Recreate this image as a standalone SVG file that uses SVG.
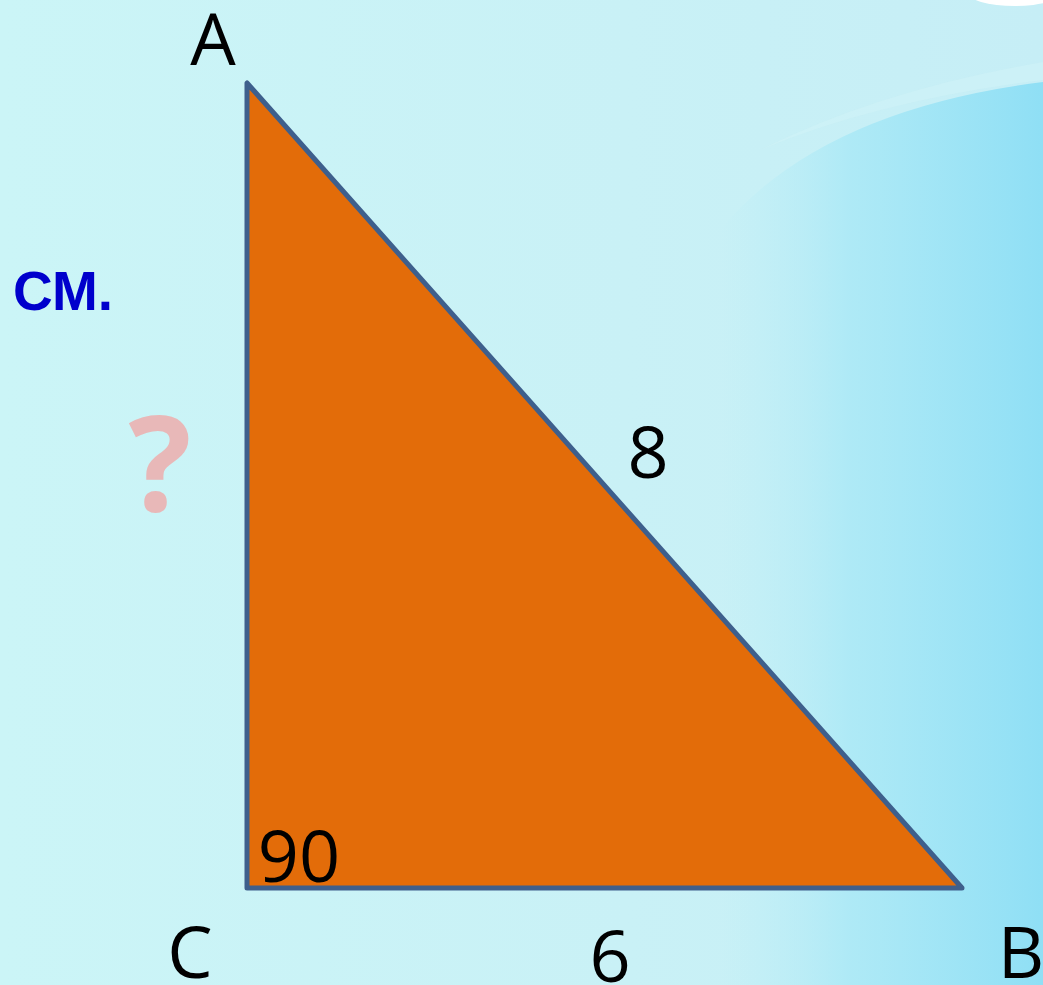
<svg xmlns="http://www.w3.org/2000/svg" width="1043" height="985" viewBox="0 0 1043 985">
<defs>
<linearGradient id="bg" x1="0" y1="0" x2="1" y2="0">
<stop offset="0" stop-color="#CBF5F7"/>
<stop offset="0.6" stop-color="#C9F1F6"/>
<stop offset="1" stop-color="#C6EEF6"/>
</linearGradient>
<linearGradient id="band" x1="0" y1="0" x2="1" y2="0">
<stop offset="0" stop-color="#B8EDF7" stop-opacity="0"/>
<stop offset="0.4" stop-color="#A8E8F6" stop-opacity="0.8"/>
<stop offset="1" stop-color="#8FDFF5"/>
</linearGradient>
<style>
.lbl{font-family:"Open Sans","Noto Sans",sans-serif;font-size:72px;fill:#000}
</style>
</defs>
<rect width="1043" height="985" fill="url(#bg)"/>
<path d="M720,985 L720,230 Q820,110 1043,82 L1043,985 Z" fill="url(#band)"/>
<path d="M760,150 Q880,90 1043,62 L1043,80 Q880,100 760,150 Z" fill="#D2F3F8" opacity="0.5"/>
<ellipse cx="1015" cy="-8" rx="48" ry="14" fill="#FFFFFF"/>
<g id="triangle">
<polygon points="247,83 247,888 962,888" fill="#E36C09" stroke="#3E5F8C" stroke-width="5" stroke-linejoin="round"/>
</g>
<g id="labels">
<text class="lbl" x="213" y="65" text-anchor="middle">A</text>
<text class="lbl" x="190" y="978" text-anchor="middle">C</text>
<text class="lbl" x="1021" y="978" text-anchor="middle">B</text>
<text class="lbl" x="610" y="982" text-anchor="middle">6</text>
<text class="lbl" x="648" y="478" text-anchor="middle">8</text>
<text class="lbl" x="299" y="882" text-anchor="middle">90</text>
<text x="13" y="310" font-family="Liberation Sans,Arial,sans-serif" font-weight="bold" font-size="55" fill="#0000CC">СМ.</text>
<text x="160" y="511" text-anchor="middle" font-family="Open Sans,Noto Sans,sans-serif" font-weight="bold" font-size="132" fill="#E8B8B8">?</text>
</g>
</svg>
